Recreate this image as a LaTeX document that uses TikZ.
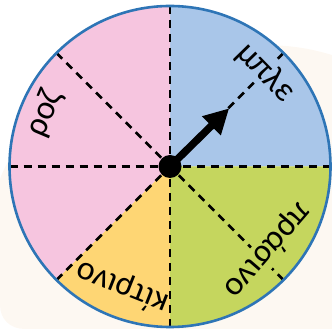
\documentclass[tikz,border=0pt]{standalone}
\usepackage{fontspec}
\newfontfamily\lblfont{Carlito}
\usetikzlibrary{arrows.meta}
\definecolor{blobc}{HTML}{FDF8F2}
\definecolor{pinkc}{HTML}{F6C5DF}
\definecolor{bluec}{HTML}{A9C6E9}
\definecolor{greenc}{HTML}{C5D65E}
\definecolor{yellowc}{HTML}{FED674}
\definecolor{rimc}{HTML}{2E75B6}
\tikzset{
  dashline/.style={line width=2.6pt, dash pattern=on 8pt off 6pt},
  rim/.style={draw=rimc, line width=2.6pt},
  lbl/.style={font=\lblfont\fontsize{34}{36}\selectfont, inner sep=0pt, anchor=center},
  pointer/.style={line width=7.5pt, -{Triangle[length=25pt,width=25pt]}},
  hubdot/.style={circle, fill=black, minimum size=23pt, inner sep=0pt}
}
\begin{document}
\begin{tikzpicture}[x=1pt,y=1pt]
\useasboundingbox (0,0) rectangle (332,329);
\fill[blobc] (0,150) -- (0,24) .. controls (0,10) and (10,0) .. (25,0) -- (332,0) -- (332,274)
  .. controls (312,280) and (295,283) .. (270,284) -- (170,250) -- (40,200)
  .. controls (20,185) and (8,172) .. (0,150) -- cycle;
\coordinate (C) at (170,162.5);
\fill[bluec] (C) -- ([shift={(0:160.5pt)}]C) arc[start angle=0, end angle=90, radius=160.5pt] -- cycle;
\fill[pinkc] (C) -- ([shift={(90:160.5pt)}]C) arc[start angle=90, end angle=225, radius=160.5pt] -- cycle;
\fill[yellowc] (C) -- ([shift={(225:160.5pt)}]C) arc[start angle=225, end angle=270, radius=160.5pt] -- cycle;
\fill[greenc] (C) -- ([shift={(270:160.5pt)}]C) arc[start angle=270, end angle=360, radius=160.5pt] -- cycle;
\foreach \a in {0,45,90,135,180,225,270,315}{
  \coordinate (e\a) at ([shift={(\a:160.5pt)}]C);
  \draw[dashline] (e\a) -- (C);
}
\node[lbl, fill=bluec, rotate=-45.7] (mple) at ([shift={(44.3:134pt)}]C) {μπλε};
\node[lbl, rotate=67.2] (roz) at ([shift={(157.2:136pt)}]C) {ροζ};
\node[lbl, rotate=158.4] (kitrino) at ([shift={(248.4:130pt)}]C) {κίτρινο};
\node[lbl, fill=greenc, rotate=-130.8] (prasino) at ([shift={(-40.8:129pt)}]C) {πράσινο};
\draw[rim] (C) circle[radius=160.5pt];
\coordinate (tip) at ([shift={(44.5:83pt)}]C);
\draw[pointer] (C) -- (tip);
\node[hubdot] (hub) at (C) {};
\end{tikzpicture}
\end{document}
